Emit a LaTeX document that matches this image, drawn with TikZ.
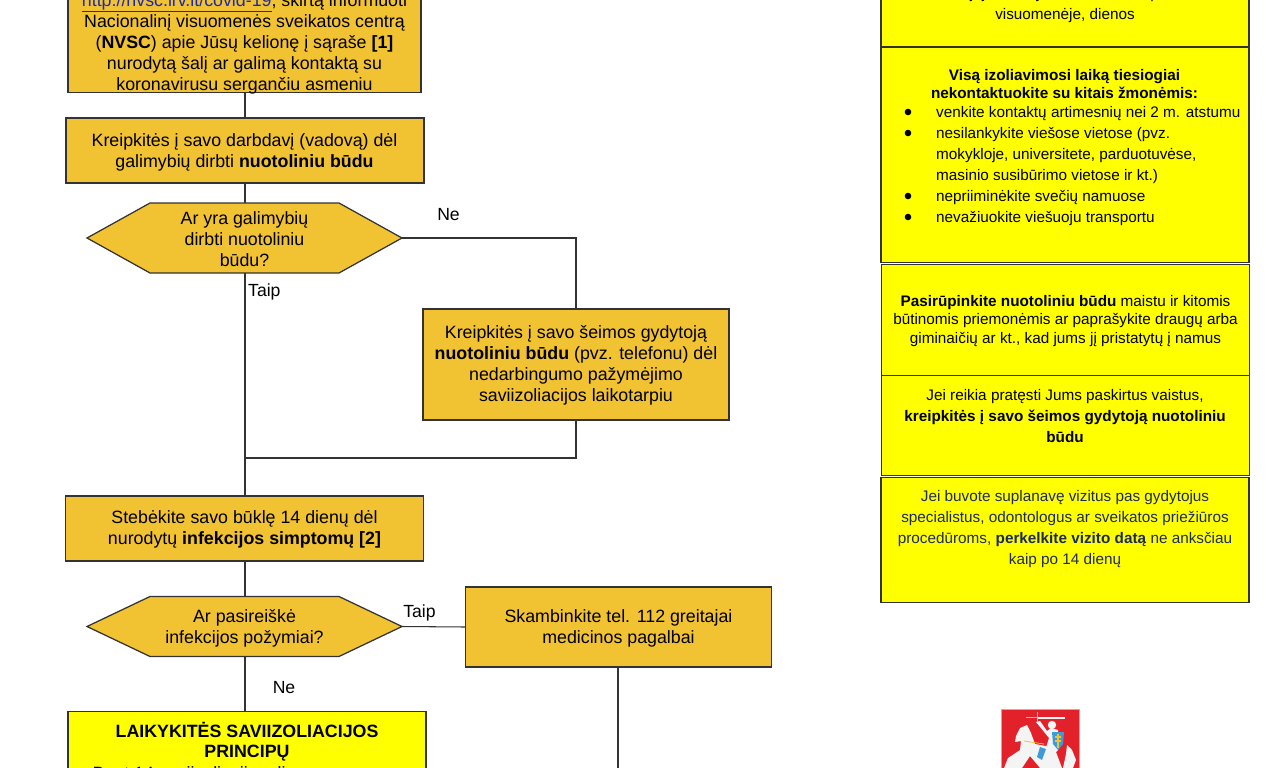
\documentclass[tikz,border=0pt]{standalone}
\usepackage{fontspec}
\setmainfont{Liberation Sans}
\definecolor{amber}{HTML}{F1C232}
\definecolor{yel}{HTML}{FFFF00}
\definecolor{edge}{HTML}{333333}
\definecolor{navy}{HTML}{1C2A5A}
\definecolor{linkblue}{HTML}{1A2AAE}
\definecolor{emred}{HTML}{E2212B}
\definecolor{emblue}{HTML}{3F9BD8}
\definecolor{silver}{HTML}{F4F4F4}
\tikzset{
 x=1pt,y=-1pt,
 box/.style={draw=edge,line width=1.25pt,inner sep=0pt,align=center,text=black},
 ambox/.style={box,fill=amber,font=\fontsize{17.8}{21}\selectfont},
 conn/.style={draw=edge,line width=1.05pt},
 lbl/.style={font=\fontsize{17.6}{20}\selectfont,inner sep=0pt},
 hexa/.style={draw=edge,line width=1.25pt,fill=amber},
 hextext/.style={font=\fontsize{17.8}{21}\selectfont,align=center,inner sep=0pt},
 rtext/.style={font=\fontsize{15.3}{21}\selectfont,align=center,inner sep=0pt},
 rtight/.style={font=\fontsize{15.3}{18.5}\selectfont,align=center,inner sep=0pt},
}
\begin{document}
\begin{tikzpicture}
\useasboundingbox (0,0) rectangle (1280,768);
\clip (0,0) rectangle (1280,768);
\fill[white] (0,0) rectangle (1280,768);

\coordinate (spineA) at (245,93);
\coordinate (joinL) at (245,458);
\coordinate (downR) at (618,768);

% left column boxes
\node[ambox,minimum width=353pt,minimum height=153pt,anchor=south] (visit) at (244.5,93) {};
\node[font=\fontsize{17.8}{21}\selectfont,align=center,inner sep=0pt,anchor=south] (visittext) at (244.5,94) {{\color{linkblue}\underline{http://nvsc.lrv.lt/covid-19}}, skirtą informuoti\\Nacionalinį visuomenės sveikatos centrą\\(\textbf{NVSC}) apie Jūsų kelionę į sąraše \textbf{[1]}\\nurodytą šalį ar galimą kontaktą su\\koronavirusu sergančiu asmeniu};
\node[ambox,minimum width=358pt,minimum height=65pt] (employer) at (245,150.5) {};
\node[hextext] (employertext) at (244.5,152) {Kreipkitės į savo darbdavį (vadovą) dėl\\galimybių dirbti \textbf{nuotoliniu būdu}};

\path[hexa] (87,238) -- (150,203) -- (339,203) -- (402,238) -- (339,273) -- (150,273) -- cycle;
\node[hextext] (q1) at (244.5,239) {Ar yra galimybių\\dirbti nuotoliniu\\būdu?};
\coordinate (q1top) at (245,203);
\coordinate (q1bot) at (245,273);
\coordinate (q1r) at (402,238);

\node[ambox,minimum width=306pt,minimum height=111pt] (doctor) at (576,364.5) {};
\node[hextext] (doctortext) at (576,365.5) {Kreipkitės į savo šeimos gydytoją\\\textbf{nuotoliniu būdu} (pvz. telefonu) dėl\\nedarbingumo pažymėjimo\\saviizoliacijos laikotarpiu};

\node[ambox,minimum width=358pt,minimum height=65pt] (watch) at (244.5,528.5) {};
\node[hextext] (watchtext) at (244.5,529.5) {Stebėkite savo būklę 14 dienų dėl\\nurodytų \textbf{infekcijos simptomų [2]}};

\path[hexa] (87,626.5) -- (150,596.5) -- (339,596.5) -- (402,626.5) -- (339,656.5) -- (150,656.5) -- cycle;
\node[hextext] (q2) at (244.5,628) {Ar pasireiškė\\infekcijos požymiai?};
\coordinate (q2top) at (245,596.5);
\coordinate (q2bot) at (245,656.5);
\coordinate (q2r) at (402,626.5);

\node[ambox,minimum width=306pt,minimum height=80pt] (call) at (618.5,627) {};
\node[hextext] (calltext) at (618.5,628.5) {Skambinkite tel. 112 greitajai\\medicinos pagalbai};

\node[box,fill=yel,minimum width=358pt,minimum height=140pt,anchor=north] (principles) at (247,711) {};
\node[font=\fontsize{17.8}{20.5}\selectfont\bfseries,align=center,inner sep=0pt,anchor=north] (ptitle) at (247,722) {LAIKYKITĖS SAVIIZOLIACIJOS\\PRINCIPŲ};
\node[font=\fontsize{17.8}{20}\selectfont,inner sep=0pt,anchor=north] (pbody) at (243,766.5) {Bent 14 saviizoliacijos dienų namuose};

% connectors
\draw[conn] (visit.south -| spineA) -- (employer.north -| spineA);
\draw[conn] (employer.south -| spineA) -- (q1top);
\draw[conn] (q1bot) -- (watch.north -| q1bot);
\draw[conn] (q1r) -| (doctor.north);
\draw[conn] (doctor.south) |- (joinL);
\draw[conn] (watch.south -| q2top) -- (q2top);
\draw[conn] (q2bot) -- (principles.north -| q2bot);
\draw[conn] (q2r) -- (call.west);
\draw[conn] (call.south -| downR) -- (downR);

\node[lbl] (ne1) at (448.5,214.5) {Ne};
\node[lbl,anchor=west] (taip1) at (248,291.5) {Taip};
\node[lbl] (taip2) at (419.5,613) {Taip};
\node[lbl] (ne2) at (284,687.5) {Ne};

% right column
\node[box,fill=yel,minimum width=368pt,minimum height=100pt,anchor=south] (r0) at (1065,47) {};
\node[rtext,anchor=south] (r0text) at (1065,23) {teritorijoje, kur vyksta COVID-19 plitimas\\visuomenėje, dienos};

\node[box,fill=yel,minimum width=368pt,minimum height=215pt,anchor=north] (r1) at (1065,47) {};
\node[rtight,font=\fontsize{15.3}{18}\selectfont\bfseries] (r1head) at (1064.5,84.5) {Visą izoliavimosi laiką tiesiogiai\\nekontaktuokite su kitais žmonėmis:};
\foreach \n/\yy/\tt in {a/113.5/venkite kontaktų artimesnių nei 2 m. atstumu,
  b/134.5/nesilankykite viešose vietose (pvz.,
  c/155.5/mokykloje{,} universitete{,} parduotuvėse{,},
  d/176.5/masinio susibūrimo vietose ir kt.),
  e/197.5/nepriiminėkite svečių namuose,
  f/218.5/nevažiuokite viešuoju transportu}{
  \node[font=\fontsize{15.3}{18}\selectfont,anchor=west,inner sep=0pt] (it\n) at (936,\yy) {\tt};
}
\foreach \n/\yy in {a/112,b/133,e/196,f/217}{
  \fill (908,\yy) circle (3.3pt);
}

\node[box,fill=yel,minimum width=368pt,minimum height=111pt,anchor=north] (r2) at (1065.5,263.5) {};
\node[rtight] (r2text) at (1065.5,321) {\textbf{Pasirūpinkite nuotoliniu būdu} maistu ir kitomis\\būtinomis priemonėmis ar paprašykite draugų arba\\giminaičių ar kt., kad jums jį pristatytų į namus};

\node[box,fill=yel,minimum width=368pt,minimum height=100pt,anchor=north] (r3) at (1065.5,375) {};
\node[rtext] (r3text) at (1065,416) {Jei reikia pratęsti Jums paskirtus vaistus,\\\textbf{kreipkitės į savo šeimos gydytoją nuotoliniu}\\\textbf{būdu}};

\node[box,fill=yel,minimum width=368pt,minimum height=125pt,anchor=north] (r4) at (1065,477) {};
\node[rtext,text=navy] (r4text) at (1065,529) {Jei buvote suplanavę vizitus pas gydytojus\\specialistus, odontologus ar sveikatos priežiūros\\procedūroms, \textbf{perkelkite vizito datą} ne anksčiau\\kaip po 14 dienų};

% emblem
\fill[emred] (1001,709.5) rectangle (1079,780);
\draw[gray!60,line width=.5pt] (1001,780) -- (1001,709.5) -- (1079,709.5) -- (1079,780);
% sword
\draw[silver,line width=2.4pt] (1037,718) -- (1065,718);
\draw[amber,line width=1.6pt] (1026,717.5) -- (1037,717.5) (1037.5,712) -- (1037.5,723);
% knight
\fill[silver] (1052,725) circle (4.2pt);
\fill[silver] (1036,722) -- (1040,721) -- (1047,731) -- (1051,728) -- (1058,730) -- (1058,750) -- (1050,758) -- (1044,754) -- (1049,738) -- cycle;
% horse
\fill[silver] (1016,736) -- (1020,728) -- (1027,725) -- (1031,733) -- (1035,744) -- (1046,746) -- (1056,752) -- (1062,768) -- (1040,768) -- (1030,756) -- (1022,768) -- (1004,768) -- (1008,758) -- (1020,750) -- (1021,741) -- (1015,742) -- cycle;
\draw[amber,line width=.8pt] (1024,741) -- (1044,744);
\fill[emblue] (1040,747) -- (1046,749) -- (1042,760) -- (1037,757) -- cycle;
% shield
\fill[emblue] (1052,732) -- (1064,732) -- (1063,744) -- (1058,750) -- (1053,744) -- cycle;
\draw[amber,line width=1.1pt] (1058,734) -- (1058,748) (1055,737) -- (1061,737) (1055,741) -- (1061,741);
% tail
\fill[silver] (1063,768) -- (1066,754) -- (1067,745) -- (1072,750) -- (1076,760) -- (1073,768) -- cycle;
\end{tikzpicture}
\end{document}
